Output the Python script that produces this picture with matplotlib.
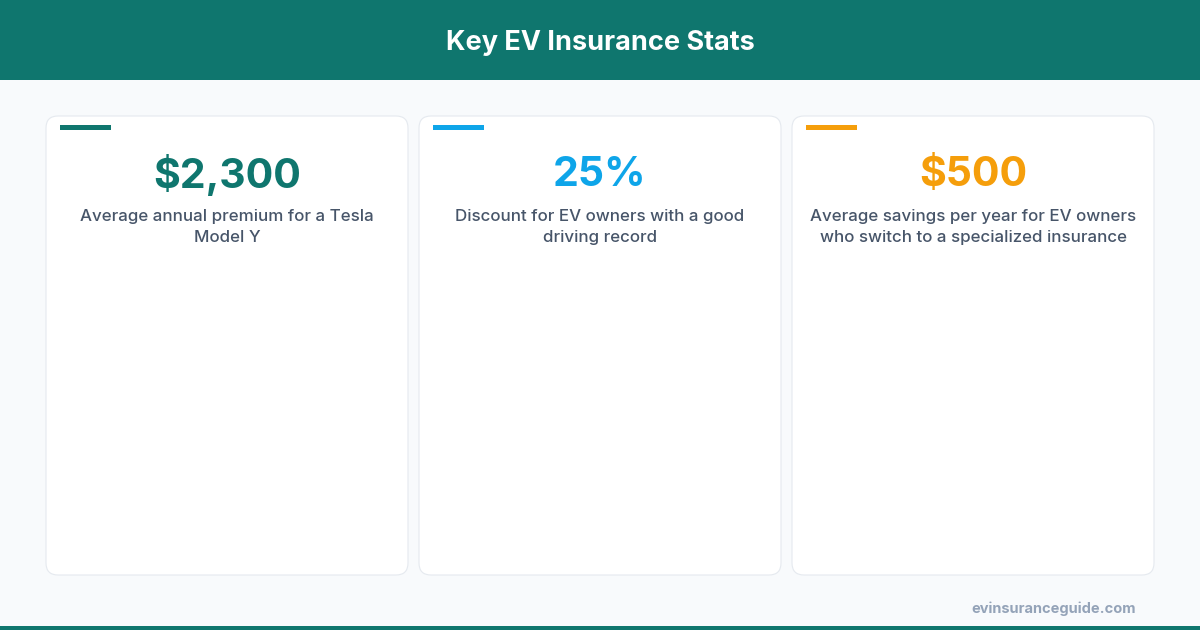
import matplotlib
matplotlib.use("Agg")
from matplotlib import pyplot as plt
from matplotlib.patches import FancyBboxPatch, Rectangle

plt.rcParams["font.family"] = ["Inter", "DejaVu Sans"]

# data
title = "Key EV Insurance Stats"
stat_values = ["$2,300", "25%", "$500"]
stat_labels = [
    "Average annual premium for a Tesla\nModel Y",
    "Discount for EV owners with a good\ndriving record",
    "Average savings per year for EV owners\nwho switch to a specialized insurance",
]
stat_colors = ["#0f766e", "#0ea5e9", "#f59e0b"]
source = "evinsuranceguide.com"

TEAL = "#0f766e"
W, H = 1200, 630

fig = plt.figure(figsize=(12, 6.3), dpi=100)
fig.patch.set_facecolor("#f8fafc")
ax = fig.add_axes([0, 0, 1, 1])
ax.set_xlim(0, W)
ax.set_ylim(H, 0)
ax.axis("off")

# header + bottom strip
ax.add_patch(Rectangle((0, 0), W, 80, color=TEAL, lw=0))
ax.add_patch(Rectangle((0, 626), W, 4, color=TEAL, lw=0))
ax.text(600, 43.5, title, color="white", fontsize=19.5, fontweight="bold",
        ha="center", va="center")

# cards
card_w, card_h, gap = 362, 459, 11
x0, y0 = 46, 116
for i, (val, lab, col) in enumerate(zip(stat_values, stat_labels, stat_colors)):
    cx = x0 + i * (card_w + gap)
    ax.add_patch(FancyBboxPatch((cx, y0), card_w, card_h,
                                boxstyle="round,pad=0,rounding_size=12",
                                fc="white", ec="#e5e9ef", lw=0.8))
    ax.add_patch(Rectangle((cx + 14, y0 + 9), 51, 4.5, color=col, lw=0))
    ax.text(cx + card_w / 2, 175, val, color=col, fontsize=29.5,
            fontweight="bold", ha="center", va="center")
    ax.text(cx + card_w / 2, 227, lab, color="#475569", fontsize=12.2,
            fontweight="medium", ha="center", va="center", linespacing=1.55)

ax.text(1136, 609, source, color="#94a3b8", fontsize=10.5, fontweight="bold",
        ha="right", va="center")

fig.savefig("out.png", dpi=100, facecolor=fig.get_facecolor())
